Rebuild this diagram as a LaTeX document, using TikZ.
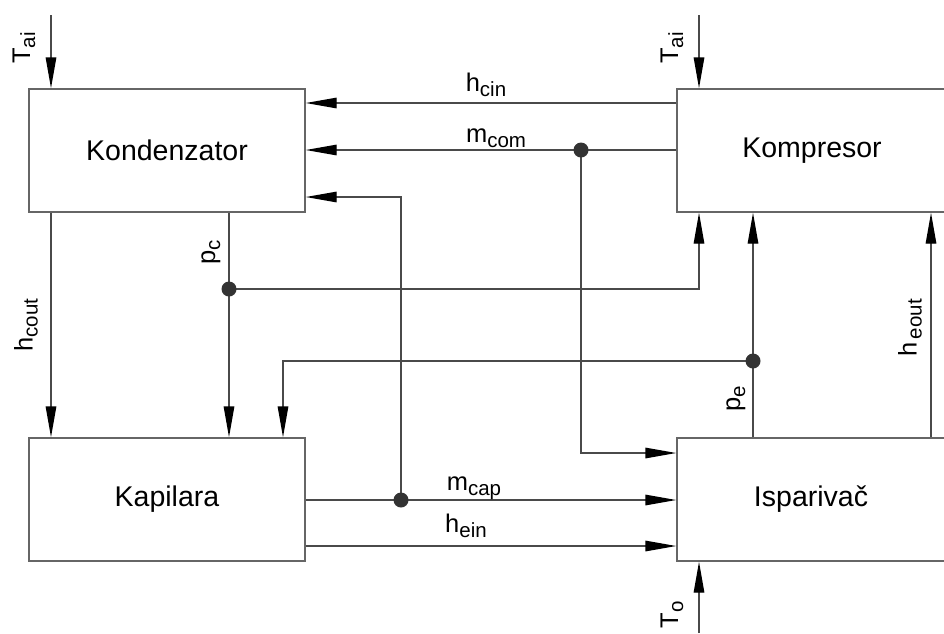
\documentclass[tikz,border=0pt]{standalone}
\usepackage{fontspec}
\setmainfont{Liberation Sans}
\usetikzlibrary{arrows.meta}

\definecolor{linec}{HTML}{4A4A4A}
\definecolor{boxc}{HTML}{666666}
\definecolor{dotc}{HTML}{333333}

% signal name with subscript
\newcommand{\sig}[2]{{\fontsize{25.5}{28}\selectfont #1}\raisebox{-5pt}{\fontsize{20.5}{22}\selectfont #2}}

\tikzset{
  blok/.style={draw=boxc, line width=1.4pt, inner sep=0pt, fill=white,
    font=\fontsize{28.5}{32}\selectfont},
  tok/.style={draw=linec, line width=1.4pt, -{Triangle[length=31pt,width=10.5pt,color=black]}},
  oznaka/.style={inner sep=0pt, anchor=base},
}

\begin{document}
\begin{tikzpicture}[x=1pt,y=-1pt]
\clip (0,0) rectangle (944,633);

% blokovi
\node[blok, minimum width=276, minimum height=123] (kon) at (167,150.5) {Kondenzator};
\node[blok, minimum width=280, minimum height=123] (kmp) at (817,150.5) {\hspace*{-10pt}Kompresor};
\node[blok, minimum width=276, minimum height=123] (kap) at (167,499.5) {Kapilara};
\node[blok, minimum width=280, minimum height=123] (isp) at (817,499.5) {\hspace*{-12pt}Isparivač};

% tocke
\coordinate (tai1) at (51,15);
\coordinate (tai2) at (699,15);
\coordinate (hcin) at (490,103);
\coordinate (dmcom) at (581,150);
\coordinate (b1) at (581,453);
\coordinate (dmcap) at (401,500);
\coordinate (b2) at (401,197);
\coordinate (hein) at (490,546);
\coordinate (dpc) at (229,289);
\coordinate (dpe) at (753,361);
\coordinate (b3) at (283,361);
\coordinate (heout) at (931,400);
\coordinate (to) at (699,633);

% veze
\draw[tok] (tai1) -- (tai1 |- kon.north);
\draw[tok] (tai2) -- (tai2 |- kmp.north);
\draw[tok] (hcin -| kmp.west) -- (hcin -| kon.east);
\draw[tok] (dmcom -| kmp.west) -- (dmcom -| kon.east);
\draw[tok] (dmcom) -- (b1) -- (b1 -| isp.west);
\draw[tok] (dmcap -| kap.east) -- (dmcap -| isp.west);
\draw[tok] (dmcap) -- (b2) -- (b2 -| kon.east);
\draw[tok] (hein -| kap.east) -- (hein -| isp.west);
\draw[tok] (tai1 |- kon.south) -- (tai1 |- kap.north);
\draw[tok] (dpc |- kon.south) -- (dpc |- kap.north);
\draw[tok] (dpc) -- (dpc -| tai2) -- (tai2 |- kmp.south);
\draw[tok] (dpe |- isp.north) -- (dpe |- kmp.south);
\draw[tok] (dpe) -- (b3) -- (b3 |- kap.north);
\draw[tok] (heout |- isp.north) -- (heout |- kmp.south);
\draw[tok] (to) -- (to |- isp.south);

\foreach \t in {dmcom,dmcap,dpc,dpe}
  \fill[dotc] (\t) circle (7.5);

% oznake
\node[oznaka] (lhcin) at (486,91) {\sig{h}{cin}};
\node[oznaka] (lmcom) at (496,142) {\sig{m}{com}};
\node[oznaka] (lmcap) at (474,490) {\sig{m}{cap}};
\node[oznaka] (lhein) at (466,532) {\sig{h}{ein}};
\node[rotate=90, inner sep=0pt] (ltai1) at (24,48) {\sig{T}{ai}};
\node[rotate=90, inner sep=0pt] (ltai2) at (672,48) {\sig{T}{ai}};
\node[rotate=90, inner sep=0pt] (lhcout) at (26,325) {\sig{h}{cout}};
\node[rotate=90, inner sep=0pt] (lpc) at (211,252) {\sig{p}{c}};
\node[rotate=90, inner sep=0pt] (lpe) at (736,399) {\sig{p}{e}};
\node[rotate=90, inner sep=0pt] (lheout) at (910,328) {\sig{h}{\,eout}};
\node[rotate=90, inner sep=0pt] (lto) at (672,615) {\sig{T}{o}};
\end{tikzpicture}
\end{document}
